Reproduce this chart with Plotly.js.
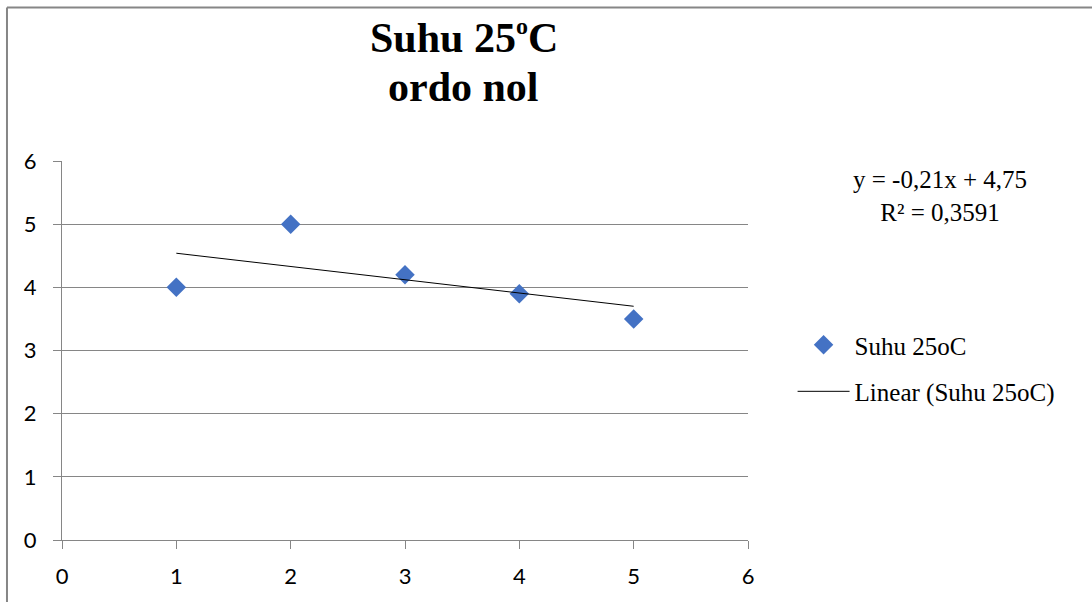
<!DOCTYPE html>
<html>
<head>
<meta charset="utf-8">
<script src="https://cdn.plot.ly/plotly-3.0.1.min.js"></script>
<style>html,body{margin:0;padding:0;background:#fff;}#chart{width:1092px;height:602px;}</style>
</head>
<body>
<div id="chart"></div>
<script>
// Data
const xValues = [1, 2, 3, 4, 5];
const yValues = [4.0, 5.0, 4.2, 3.9, 3.5];
const trendX = [1, 5];
const trendY = [4.54, 3.70];
const seriesName = 'Suhu 25oC';
const trendName = 'Linear (Suhu 25oC)';
const titleLine1 = 'Suhu 25<sup><span style="font-size:24px">o</span></sup>C';
const titleLine2 = 'ordo nol';
const equationText = 'y = -0,21x + 4,75<br>R² = 0,3591';
const tickVals = [0, 1, 2, 3, 4, 5, 6];

const serif = 'Liberation Serif, Times New Roman, serif';
const sans = 'Lato, Carlito, Calibri, sans-serif';
const gray = '#868686';

const traces = [
  {
    x: xValues, y: yValues, type: 'scatter', mode: 'markers', name: seriesName,
    legendgroup: 'a',
    marker: {symbol: 'diamond', size: 15, color: '#4472C4', line: {width: 0}}
  },
  {
    x: trendX, y: trendY, type: 'scatter', mode: 'lines', name: trendName,
    legendgroup: 'b',
    line: {color: '#000000', width: 1}
  }
];

const layout = {
  width: 1092, height: 602,
  margin: {l: 62, r: 344, t: 161, b: 62, pad: 0},
  paper_bgcolor: '#ffffff', plot_bgcolor: '#ffffff',
  showlegend: true,
  legend: {
    x: 1.065, xanchor: 'left', y: 0.575, yanchor: 'top',
    font: {family: serif, size: 25, color: '#000'},
    traceorder: 'grouped', tracegroupgap: 11,
    bgcolor: 'rgba(0,0,0,0)', itemwidth: 52
  },
  xaxis: {
    range: [0, 6], tickvals: tickVals, ticktext: tickVals.map(String),
    showgrid: false, zeroline: false,
    showline: true, linecolor: gray, linewidth: 1,
    ticks: 'outside', ticklen: 8, tickcolor: gray, tickwidth: 1,
    tickfont: {family: sans, size: 22, color: '#000'},
    ticklabelstandoff: 9, fixedrange: true
  },
  yaxis: {
    range: [0, 6], tickvals: tickVals, ticktext: tickVals.map(String),
    showgrid: true, gridcolor: gray, gridwidth: 1, zeroline: false,
    showline: true, linecolor: gray, linewidth: 1,
    ticks: 'outside', ticklen: 8, tickcolor: gray, tickwidth: 1,
    tickfont: {family: sans, size: 22, color: '#000'},
    ticklabelstandoff: 12, fixedrange: true
  },
  annotations: [
    {text: '<b>' + titleLine1 + '</b>', xref: 'paper', yref: 'paper', x: 0.586, y: 1.328,
     xanchor: 'center', yanchor: 'middle', showarrow: false,
     font: {family: serif, size: 42, color: '#000'}},
    {text: '<b>' + titleLine2 + '</b>', xref: 'paper', yref: 'paper', x: 0.586, y: 1.195,
     xanchor: 'center', yanchor: 'middle', showarrow: false,
     font: {family: serif, size: 42, color: '#000'}},
    {text: equationText, xref: 'paper', yref: 'paper', x: 1.280, y: 0.908,
     xanchor: 'center', yanchor: 'middle', showarrow: false, align: 'center',
     font: {family: serif, size: 25, color: '#000'}}
  ],
  shapes: [
    {type: 'line', xref: 'paper', yref: 'paper', x0: -0.0802, x1: -0.0802, y0: -0.17, y1: 1.405,
     line: {color: gray, width: 2}},
    {type: 'line', xref: 'paper', yref: 'paper', x0: -0.0802, x1: 1.51, y0: 1.405, y1: 1.405,
     line: {color: gray, width: 2}}
  ]
};

Plotly.newPlot('chart', traces, layout, {displayModeBar: false, staticPlot: true});
</script>
</body>
</html>
